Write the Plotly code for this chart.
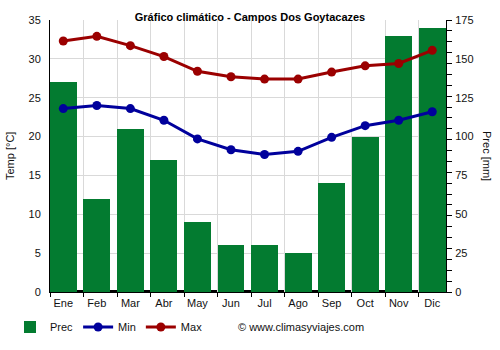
import plotly.graph_objects as go

# ---- data ----
months = ["Ene", "Feb", "Mar", "Abr", "May", "Jun", "Jul", "Ago", "Sep", "Oct", "Nov", "Dic"]
prec = [135, 60, 105, 85, 45, 30, 30, 25, 70, 100, 165, 170]
tmin = [23.6, 24.0, 23.6, 22.1, 19.7, 18.3, 17.7, 18.1, 19.9, 21.4, 22.1, 23.2]
tmax = [32.3, 32.9, 31.7, 30.3, 28.4, 27.7, 27.4, 27.4, 28.3, 29.1, 29.4, 31.1]
temp_ticks = list(range(0, 36, 5))
prec_labels = list(range(0, 176, 25))
prec_minor = list(range(0, 176, 7))

xpos = list(range(len(months)))
X0, X1 = -0.396, 11.41
bounds = [X0 + k for k in range(len(months))]

FONT = "Liberation Sans, Arial, sans-serif"
GREEN = "#037b30"
BLUE = "#00009c"
RED = "#9b0000"
GRID = "#d9d9d9"

fig = go.Figure()
# bars on the main subplot (precipitation axis), lines on an overlay (temperature axis) so they sit on top
fig.add_trace(go.Bar(x=xpos, y=prec, name="Prec", marker=dict(color=GREEN, line=dict(width=0)),
                     width=0.8, xaxis="x", yaxis="y"))
fig.add_trace(go.Scatter(x=xpos, y=tmin, name="Min", mode="lines+markers",
                         line=dict(color=BLUE, width=3), marker=dict(size=9, color=BLUE),
                         xaxis="x", yaxis="y2"))
fig.add_trace(go.Scatter(x=xpos, y=tmax, name="Max", mode="lines+markers",
                         line=dict(color=RED, width=3), marker=dict(size=9, color=RED),
                         xaxis="x", yaxis="y2"))
# invisible helper trace that carries the month-label axis
fig.add_trace(go.Scatter(x=[xpos[0]], y=[prec[0]], mode="markers", marker=dict(opacity=0),
                         showlegend=False, hoverinfo="skip", xaxis="x2", yaxis="y"))

fig.update_layout(
    width=500, height=350,
    margin=dict(l=50, r=54, t=20, b=58, autoexpand=False),
    paper_bgcolor="white", plot_bgcolor="white",
    font=dict(family=FONT, size=11, color="#111111"),
    title=dict(text="<b>Gráfico climático - Campos Dos Goytacazes</b>", x=0.5, xref="container",
               xanchor="center", y=1 - 17 / 350, yref="container", yanchor="middle",
               font=dict(size=11, color="black", family=FONT)),
    bargap=0,
    xaxis=dict(range=[X0, X1], tickmode="array", tickvals=bounds, showticklabels=False,
               ticks="outside", ticklen=4, tickcolor="black", showgrid=True, gridcolor=GRID,
               gridwidth=1, showline=True, linecolor="black", linewidth=1, zeroline=False,
               automargin=False),
    xaxis2=dict(range=[X0, X1], overlaying="x", side="bottom", tickmode="array",
                tickvals=xpos, ticktext=months, ticks="outside", ticklen=1,
                tickcolor="rgba(0,0,0,0)", showgrid=False, zeroline=False, showline=False,
                tickfont=dict(size=11, color="#111111"), automargin=False),
    yaxis=dict(range=[0, 175], side="right", tickmode="array",
               tickvals=prec_labels, ticks="outside", ticklen=6, tickcolor="rgba(0,0,0,0)",
               showgrid=False, zeroline=False, showline=True, linecolor="black", linewidth=1,
               automargin=False,
               minor=dict(tickmode="array", tickvals=prec_minor, ticks="outside", ticklen=5,
                          tickcolor="black", showgrid=False)),
    yaxis2=dict(range=[0, 35], overlaying="y", side="left", tickmode="array", tickvals=temp_ticks,
                ticks="outside", ticklen=6, tickcolor="rgba(0,0,0,0)", showgrid=True,
                gridcolor=GRID, gridwidth=1, showline=True, linecolor="black", linewidth=1,
                zeroline=False, automargin=False),
    legend=dict(orientation="h", xref="container", yref="container", x=0.02, y=23 / 350,
                xanchor="left", yanchor="middle", font=dict(size=11, color="#111111"),
                bgcolor="rgba(0,0,0,0)", itemclick=False),
    shapes=[dict(type="line", xref="x domain", x0=0, x1=1, yref="y", y0=0, y1=0,
                 line=dict(color="black", width=4), layer="below")],
    annotations=[
        dict(text="Temp [°C]", xref="paper", yref="paper", x=-0.101, y=0.5, textangle=-90,
             showarrow=False, xanchor="center", yanchor="middle", font=dict(size=11, color="#111111")),
        dict(text="Prec [mm]", xref="paper", yref="paper", x=1.1035, y=0.5, textangle=90,
             showarrow=False, xanchor="center", yanchor="middle", font=dict(size=11, color="#111111")),
        dict(text="© www.climasyviajes.com", xref="paper", yref="paper", x=(236 - 50) / 396,
             y=(292 - 327) / 272, xanchor="left", yanchor="middle", showarrow=False,
             font=dict(size=11, color="#111111")),
    ],
)

fig.write_html("out.html")
